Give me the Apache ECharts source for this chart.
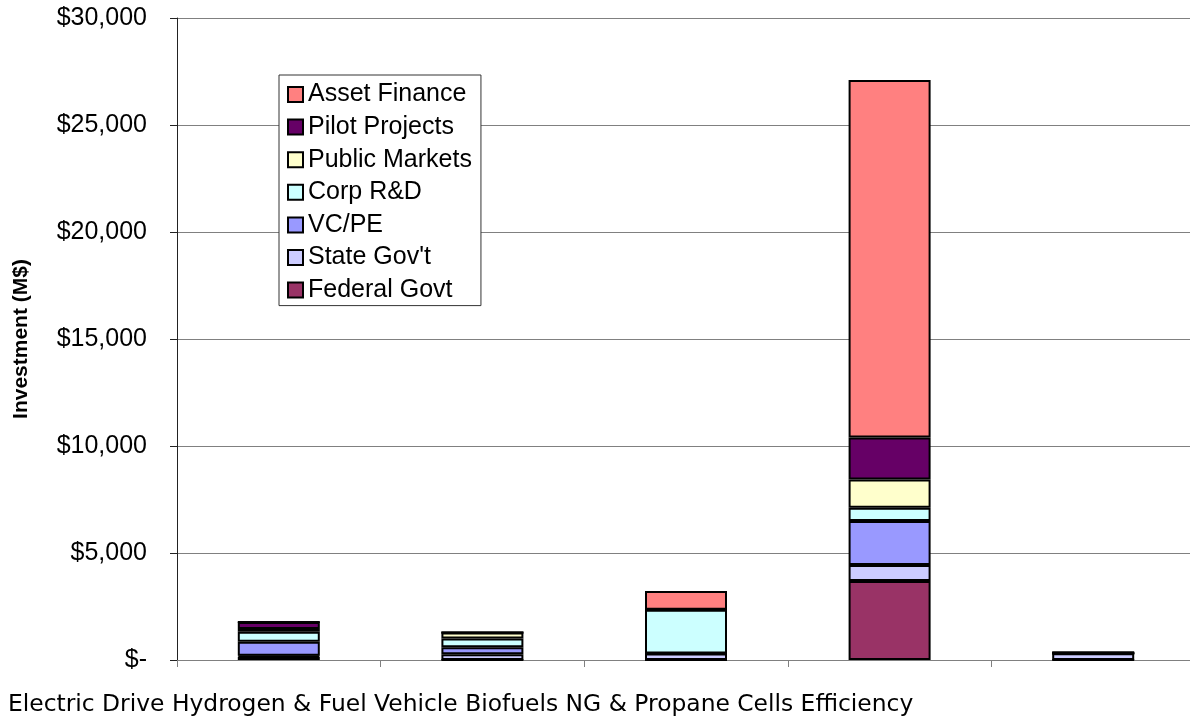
<!DOCTYPE html>
<html>
<head>
<meta charset="utf-8">
<script src="https://cdn.jsdelivr.net/npm/echarts@6/dist/echarts.min.js"></script>
<style>
  html, body { margin: 0; padding: 0; background: #ffffff; }
  #chart { width: 1190px; height: 719px; }
</style>
</head>
<body>
<div id="chart"></div>
<script>
// Technology categories; "\n" marks where each name wraps onto a second line
const categories = ['Electric Drive', 'Hydrogen & Fuel\nCells', 'Vehicle\nEfficiency', 'Biofuels', 'NG & Propane'];

// Investment by source (M$), one value per category, stacked bottom to top
const federalGovt   = [150, 0, 0, 3690, 0];
const stateGovt     = [50, 270, 300, 750, 310];
const vcPe          = [650, 330, 0, 2050, 0];
const corpRD        = [470, 400, 2050, 620, 0];
const publicMarkets = [130, 280, 0, 1330, 0];
const pilotProjects = [330, 0, 0, 1960, 0];
const assetFinance  = [0, 0, 880, 16700, 100];

// Value axis tick labels, from 0 up to 30,000 in steps of 5,000
const yTickLabels = ['$-', '$5,000', '$10,000', '$15,000', '$20,000', '$25,000', '$30,000'];

const seriesDefs = [
  { name: 'Federal Govt',   data: federalGovt,   color: '#993366' },
  { name: "State Gov't",    data: stateGovt,     color: '#CCCCFF' },
  { name: 'VC/PE',          data: vcPe,          color: '#9999FF' },
  { name: 'Corp R&D',       data: corpRD,        color: '#CCFFFF' },
  { name: 'Public Markets', data: publicMarkets, color: '#FFFFCC' },
  { name: 'Pilot Projects', data: pilotProjects, color: '#660066' },
  { name: 'Asset Finance',  data: assetFinance,  color: '#FF8080' }
];

// Category captions: first lines of every name, then the wrapped remainders
const firstLines = categories.map(c => c.split('\n')[0]);
const secondLines = categories.filter(c => c.includes('\n')).map(c => c.split('\n')[1]);
const categoryCaption = firstLines.concat(secondLines).join(' ');

const chart = echarts.init(document.getElementById('chart'), null, { renderer: 'canvas' });

chart.setOption({
  backgroundColor: '#ffffff',
  animation: false,
  grid: { left: 177, top: 18, width: 1018, bottom: 59, containLabel: false, outerBoundsMode: 'none' },
  legend: {
    orient: 'vertical',
    left: 279,
    top: 75,
    padding: [7, 9, 3, 8],
    itemWidth: 15,
    itemHeight: 15,
    itemGap: 7.6,
    borderColor: '#333333',
    borderWidth: 1,
    backgroundColor: '#ffffff',
    icon: 'rect',
    data: seriesDefs.map(s => s.name).reverse(),
    textStyle: { fontFamily: 'Liberation Sans, Arial, sans-serif', fontSize: 25, lineHeight: 24, color: '#000000' }
  },
  xAxis: {
    type: 'category',
    data: categories,
    axisLine: { lineStyle: { color: '#808080', width: 1 } },
    axisTick: { show: true, length: 7, lineStyle: { color: '#808080' } },
    axisLabel: { show: false }
  },
  yAxis: {
    type: 'value',
    min: 0,
    max: 30000,
    interval: 5000,
    name: 'Investment (M$)',
    nameLocation: 'middle',
    nameGap: 145,
    nameTextStyle: { fontFamily: 'Liberation Sans, Arial, sans-serif', fontSize: 21, fontWeight: 'bold', color: '#000000' },
    axisLine: { show: true, lineStyle: { color: '#222222', width: 1 } },
    axisTick: { show: true, length: 7, lineStyle: { color: '#222222' } },
    splitLine: { show: true, lineStyle: { color: '#808080', width: 1 } },
    axisLabel: {
      margin: 30,
      fontFamily: 'Liberation Sans, Arial, sans-serif',
      fontSize: 25,
      color: '#000000',
      formatter: v => yTickLabels[Math.round(v / 5000)]
    }
  },
  series: seriesDefs.map(s => ({
    name: s.name,
    type: 'bar',
    stack: 'total',
    barWidth: 82,
    data: s.data,
    itemStyle: { color: s.color, borderColor: '#000000', borderWidth: 2 }
  })),
  graphic: [{
    type: 'text',
    left: 8,
    top: 693,
    style: {
      text: categoryCaption,
      font: '23.4px "DejaVu Sans", Verdana, sans-serif',
      fill: '#000000'
    }
  }]
});
</script>
</body>
</html>
